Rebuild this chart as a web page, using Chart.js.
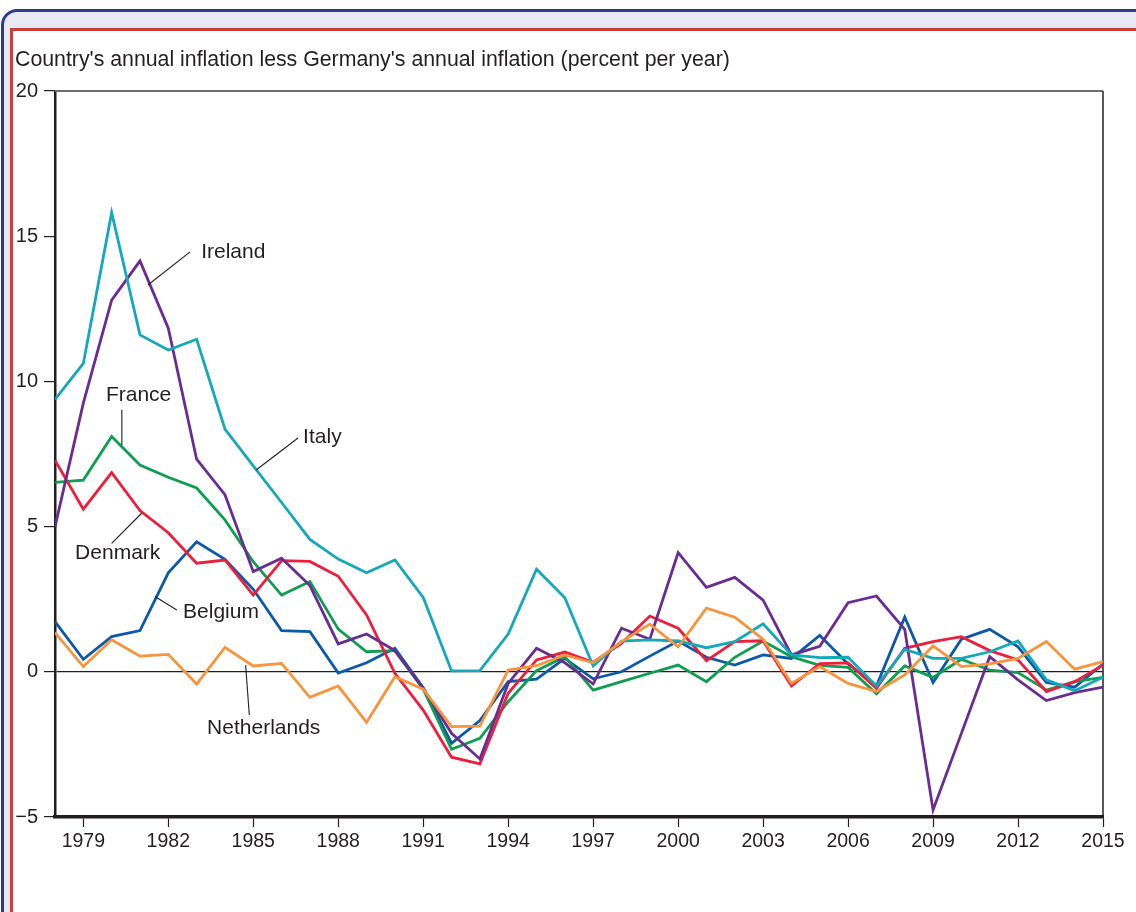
<!DOCTYPE html>
<html>
<head>
<meta charset="utf-8">
<title>Inflation differentials vs Germany</title>
<script src="https://cdn.jsdelivr.net/npm/chart.js@4.4.0/dist/chart.umd.min.js"></script>
<style>
  html, body { margin: 0; padding: 0; background: #fff; width: 1136px; height: 912px; overflow: hidden; }
  .outer { position: absolute; left: 1px; top: 9px; width: 1180px; height: 960px; border: 3px solid #2e3b8f; border-radius: 16px; background: #e9e9f3; }
  .inner { position: absolute; left: 10px; top: 28px; width: 1170px; height: 940px; border: 3px solid #c9403a; background: #fff; }
  #chart { position: absolute; left: 0; top: 0; }
</style>
</head>
<body>
<div class="outer"></div>
<div class="inner"></div>
<canvas id="chart" width="1136" height="912"></canvas>
<script>
// annual values, 1978-2015
const years = [];
for (let y = 1978; y <= 2015; y++) years.push(y);

const tickYears = [1979, 1982, 1985, 1988, 1991, 1994, 1997, 2000, 2003, 2006, 2009, 2012, 2015];

const belgium = [1.73, 0.43, 1.21, 1.42, 3.41, 4.48, 3.87, 2.84, 1.42, 1.38,
  -0.04, 0.31, 0.81, -0.55, -2.46, -1.68, -0.34, -0.25, 0.46, -0.24,
  0.0, 0.54, 1.06, 0.5, 0.23, 0.58, 0.46, 1.25, 0.27, -0.49,
  1.88, -0.37, 1.12, 1.46, 0.86, -0.37, -0.53, 0.27];

const denmark = [7.29, 5.6, 6.86, 5.55, 4.79, 3.74, 3.85, 2.64, 3.83, 3.8,
  3.29, 1.96, -0.05, -1.32, -2.94, -3.17, -0.74, 0.41, 0.68, 0.33,
  0.98, 1.92, 1.5, 0.38, 1.04, 1.07, -0.49, 0.28, 0.31, -0.57,
  0.81, 1.04, 1.21, 0.73, 0.41, -0.68, -0.34, 0.23];

const france = [6.52, 6.6, 8.1, 7.12, 6.7, 6.33, 5.23, 3.79, 2.64, 3.11,
  1.47, 0.69, 0.73, -0.6, -2.67, -2.29, -1.03, 0.04, 0.52, -0.63,
  -0.34, -0.05, 0.23, -0.34, 0.5, 1.06, 0.52, 0.22, 0.15, -0.76,
  0.2, -0.19, 0.43, 0.06, -0.03, -0.63, -0.34, -0.19];

const ireland = [4.99, 9.25, 12.8, 14.15, 11.83, 7.32, 6.1, 3.45, 3.91, 2.97,
  0.96, 1.3, 0.73, -0.57, -2.12, -3.0, -0.4, 0.81, 0.31, -0.42,
  1.5, 1.12, 4.1, 2.91, 3.25, 2.47, 0.58, 0.88, 2.38, 2.61,
  1.46, -4.76, -2.12, 0.52, -0.28, -0.99, -0.72, -0.53];

const italy = [9.38, 10.62, 15.81, 11.6, 11.08, 11.45, 8.36, 7.09, 5.83, 4.56,
  3.88, 3.41, 3.85, 2.56, 0.03, 0.04, 1.3, 3.53, 2.55, 0.2,
  1.06, 1.1, 1.06, 0.83, 1.04, 1.65, 0.58, 0.49, 0.5, -0.49,
  0.77, 0.46, 0.46, 0.69, 1.06, -0.28, -0.65, -0.19];

const netherlands = [1.35, 0.18, 1.1, 0.54, 0.6, -0.42, 0.84, 0.2, 0.29, -0.88,
  -0.49, -1.74, -0.17, -0.6, -1.89, -1.87, 0.06, 0.21, 0.58, 0.31,
  1.04, 1.64, 0.86, 2.19, 1.88, 1.12, -0.4, 0.18, -0.4, -0.68,
  -0.11, 0.89, 0.18, 0.27, 0.46, 1.04, 0.09, 0.35];

// first entry is drawn on top
const series = [
  { name: "Netherlands", values: netherlands, color: "#f7943c" },
  { name: "Italy", values: italy, color: "#14a9b8" },
  { name: "Ireland", values: ireland, color: "#6b2c91" },
  { name: "Denmark", values: denmark, color: "#ee1d3b" },
  { name: "France", values: france, color: "#0d9f4f" },
  { name: "Belgium", values: belgium, color: "#0b59a8" },
];

// series names with leader lines, in (year, value) units
const callouts = [
  { text: "Ireland", at: [1983.16, 14.45], align: "left", line: [[1981.28, 13.32], [1982.77, 14.46]] },
  { text: "France", at: [1980.95, 9.53], align: "center", line: [[1980.36, 9.02], [1980.36, 7.8]] },
  { text: "Italy", at: [1986.76, 8.08], align: "left", line: [[1985.1, 6.95], [1986.58, 8.05]] },
  { text: "Denmark", at: [1978.71, 4.09], align: "left", line: [[1980.0, 4.42], [1981.06, 5.46]] },
  { text: "Belgium", at: [1982.52, 2.06], align: "left", line: [[1981.53, 2.59], [1982.3, 2.13]] },
  { text: "Netherlands", at: [1983.37, -1.93], align: "left", line: [[1984.73, 0.23], [1984.86, -1.49]] },
];

const title = "Country's annual inflation less Germany's annual inflation (percent per year)";
const ink = "#231f20";
const fontFamily = "'Liberation Sans', Arial, Helvetica, sans-serif";

const framePlugin = {
  id: "frame",
  beforeDatasetsDraw(chart) {
    const { ctx, chartArea: a } = chart;
    ctx.save();
    ctx.strokeStyle = "#6d6e70";
    ctx.lineWidth = 2;
    ctx.beginPath();
    ctx.moveTo(a.left, a.top);
    ctx.lineTo(a.right, a.top);
    ctx.stroke();
    ctx.strokeStyle = ink;
    ctx.lineWidth = 1.5;
    ctx.beginPath();
    ctx.moveTo(a.right, a.top);
    ctx.lineTo(a.right, a.bottom);
    ctx.stroke();
    ctx.restore();
  },
  afterDraw(chart) {
    const ctx = chart.ctx;
    ctx.save();
    ctx.fillStyle = ink;
    ctx.font = "21.3px " + fontFamily;
    ctx.textBaseline = "middle";
    ctx.textAlign = "left";
    ctx.fillText(title, 15, 60);
    ctx.restore();
  },
};

const calloutPlugin = {
  id: "callouts",
  afterDatasetsDraw(chart) {
    const { ctx, scales } = chart;
    const px = (p) => [scales.x.getPixelForValue(p[0]), scales.y.getPixelForValue(p[1])];
    ctx.save();
    ctx.strokeStyle = ink;
    ctx.lineWidth = 1.1;
    ctx.fillStyle = ink;
    ctx.font = "21px " + fontFamily;
    ctx.textBaseline = "middle";
    callouts.forEach((c) => {
      const p0 = px(c.line[0]);
      const p1 = px(c.line[1]);
      ctx.beginPath();
      ctx.moveTo(p0[0], p0[1]);
      ctx.lineTo(p1[0], p1[1]);
      ctx.stroke();
      const t = px(c.at);
      ctx.textAlign = c.align;
      ctx.fillText(c.text, t[0], t[1]);
    });
    ctx.restore();
  },
};

const chartEl = document.getElementById("chart");
new Chart(chartEl, {
  type: "line",
  data: {
    datasets: series.map((s) => ({
      label: s.name,
      data: years.map((y, i) => ({ x: y, y: s.values[i] })),
      borderColor: s.color,
      borderWidth: 2.8,
      pointRadius: 0,
      tension: 0,
      fill: false,
    })),
  },
  options: {
    responsive: false,
    animation: false,
    devicePixelRatio: 1,
    layout: { padding: { top: 91, right: 33, left: 0, bottom: 0 } },
    plugins: { legend: { display: false }, tooltip: { enabled: false } },
    scales: {
      x: {
        type: "linear",
        min: 1978,
        max: 2015,
        afterBuildTicks: (s) => { s.ticks = tickYears.map((v) => ({ value: v })); },
        afterFit: (s) => { s.height = 95; },
        grid: { drawOnChartArea: false, tickLength: 10, tickColor: ink, tickWidth: 1.2 },
        border: { color: ink, width: 3.5 },
        ticks: {
          color: ink,
          font: { size: 19.5, family: fontFamily },
          padding: 3,
          maxRotation: 0,
          autoSkip: false,
          callback: (v) => String(v),
        },
      },
      y: {
        min: -5,
        max: 20,
        afterFit: (s) => { s.width = 55; },
        grid: {
          color: (c) => (c.tick && c.tick.value === 0 ? ink : "transparent"),
          tickColor: ink,
          tickLength: 11,
          lineWidth: 1.2,
        },
        border: { color: ink, width: 2.5 },
        ticks: {
          stepSize: 5,
          color: ink,
          font: { size: 20, family: fontFamily },
          padding: 6,
          callback: (v) => (v < 0 ? "\u2212" + Math.abs(v) : String(v)),
        },
      },
    },
  },
  plugins: [framePlugin, calloutPlugin],
});
</script>
</body>
</html>
